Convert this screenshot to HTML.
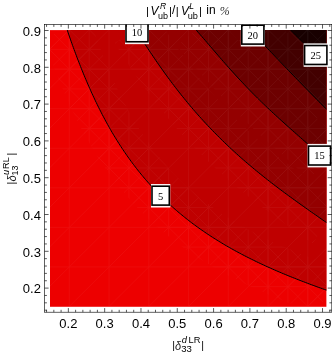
<!DOCTYPE html>
<html><head><meta charset="utf-8"><style>
html,body{margin:0;padding:0;background:#fff;}
body{width:332px;height:354px;overflow:hidden;font-family:"Liberation Sans",sans-serif;}
svg{display:block;font-family:"Liberation Sans",sans-serif;}
</style></head><body>
<svg width="332" height="354" viewBox="0 0 332 354">
<g style="will-change:opacity" opacity="0.999">
<rect x="50.0" y="30.1" width="276.40" height="276.70" fill="rgb(237,0,0)"/>
<path d="M67.28,30.10 L67.94,32.19 L68.60,34.12 L69.27,36.05 L69.94,37.98 L70.62,39.91 L71.30,41.83 L71.98,43.75 L72.67,45.66 L73.36,47.58 L74.06,49.49 L74.76,51.39 L75.46,53.29 L76.17,55.19 L76.89,57.08 L77.60,58.97 L78.33,60.86 L79.05,62.73 L79.79,64.61 L80.52,66.48 L81.26,68.34 L82.01,70.20 L82.76,72.05 L83.51,73.89 L84.27,75.73 L85.03,77.57 L85.80,79.40 L86.58,81.22 L87.36,83.03 L88.14,84.84 L88.93,86.64 L89.72,88.44 L90.52,90.23 L91.32,92.01 L92.13,93.78 L92.94,95.55 L93.76,97.31 L94.58,99.07 L95.41,100.81 L96.25,102.55 L97.09,104.28 L97.93,106.01 L98.78,107.72 L99.64,109.43 L100.50,111.14 L101.37,112.83 L102.24,114.52 L103.11,116.19 L104.00,117.87 L104.89,119.53 L105.78,121.18 L106.68,122.83 L107.59,124.47 L108.50,126.10 L109.42,127.73 L110.34,129.34 L111.27,130.95 L112.20,132.55 L113.15,134.14 L114.09,135.72 L115.05,137.30 L116.01,138.87 L116.97,140.43 L117.94,141.98 L118.92,143.52 L119.91,145.05 L120.90,146.58 L121.89,148.10 L122.90,149.61 L123.91,151.11 L124.92,152.61 L125.94,154.09 L126.97,155.57 L128.01,157.04 L129.05,158.50 L130.10,159.96 L131.15,161.40 L132.22,162.84 L133.28,164.27 L134.36,165.69 L135.44,167.11 L136.53,168.51 L137.63,169.91 L138.73,171.30 L139.84,172.68 L140.96,174.06 L142.08,175.42 L143.21,176.78 L144.35,178.13 L145.49,179.47 L146.65,180.81 L147.81,182.13 L148.97,183.45 L150.15,184.76 L151.33,186.07 L152.52,187.36 L153.71,188.65 L154.92,189.93 L156.13,191.21 L157.34,192.47 L158.57,193.73 L159.80,194.98 L161.04,196.22 L162.29,197.46 L163.55,198.68 L164.81,199.90 L166.08,201.12 L167.36,202.32 L168.64,203.52 L169.94,204.71 L171.24,205.90 L172.55,207.07 L173.87,208.24 L175.19,209.41 L176.52,210.56 L177.86,211.71 L179.21,212.85 L180.57,213.98 L181.93,215.11 L183.30,216.23 L184.68,217.35 L186.07,218.45 L187.47,219.55 L188.87,220.64 L190.28,221.73 L191.70,222.81 L193.13,223.88 L194.57,224.95 L196.01,226.01 L197.46,227.06 L198.92,228.11 L200.39,229.15 L201.86,230.18 L203.35,231.21 L204.84,232.23 L206.34,233.24 L207.84,234.25 L209.36,235.25 L210.88,236.25 L212.41,237.24 L213.95,238.22 L215.50,239.20 L217.06,240.17 L218.62,241.14 L220.19,242.10 L221.77,243.05 L223.35,244.00 L224.95,244.94 L226.55,245.88 L228.16,246.81 L229.78,247.73 L231.40,248.65 L233.04,249.56 L234.68,250.47 L236.32,251.37 L237.98,252.27 L239.64,253.16 L241.31,254.04 L242.99,254.92 L244.67,255.79 L246.37,256.66 L248.07,257.53 L249.77,258.39 L251.49,259.24 L253.21,260.09 L254.93,260.93 L256.67,261.77 L258.41,262.60 L260.15,263.43 L261.91,264.25 L263.67,265.06 L265.44,265.88 L267.21,266.68 L268.99,267.49 L270.77,268.28 L272.56,269.08 L274.36,269.86 L276.16,270.65 L277.97,271.43 L279.78,272.20 L281.60,272.97 L283.42,273.73 L285.25,274.49 L287.09,275.25 L288.92,276.00 L290.77,276.75 L292.61,277.49 L294.46,278.23 L296.32,278.96 L298.17,279.69 L300.04,280.41 L301.90,281.13 L303.77,281.85 L305.64,282.56 L307.51,283.27 L309.39,283.97 L311.27,284.67 L313.14,285.37 L315.03,286.06 L316.91,286.75 L318.79,287.43 L320.68,288.11 L322.56,288.79 L324.45,289.46 L326.40,290.13 L326.4,30.1 Z" fill="rgb(191,0,0)"/>
<path d="M136.11,30.10 L137.37,32.32 L138.64,34.32 L139.91,36.33 L141.19,38.33 L142.48,40.33 L143.77,42.33 L145.07,44.33 L146.38,46.33 L147.69,48.33 L149.00,50.32 L150.33,52.31 L151.66,54.30 L153.00,56.28 L154.34,58.26 L155.69,60.24 L157.05,62.21 L158.41,64.18 L159.78,66.14 L161.16,68.10 L162.55,70.05 L163.94,72.00 L165.34,73.94 L166.75,75.88 L168.16,77.81 L169.58,79.73 L171.01,81.65 L172.45,83.56 L173.89,85.47 L175.35,87.36 L176.81,89.26 L178.27,91.14 L179.75,93.02 L181.23,94.88 L182.73,96.75 L184.22,98.60 L185.73,100.45 L187.25,102.29 L188.77,104.12 L190.30,105.94 L191.84,107.76 L193.39,109.57 L194.95,111.37 L196.51,113.16 L198.09,114.95 L199.67,116.72 L201.26,118.49 L202.86,120.25 L204.46,122.00 L206.08,123.75 L207.70,125.48 L209.33,127.21 L210.97,128.93 L212.62,130.64 L214.28,132.35 L215.94,134.04 L217.62,135.73 L219.30,137.41 L220.99,139.08 L222.69,140.74 L224.39,142.40 L226.11,144.05 L227.83,145.69 L229.56,147.32 L231.30,148.94 L233.05,150.56 L234.80,152.16 L236.56,153.76 L238.33,155.36 L240.11,156.94 L241.89,158.52 L243.69,160.09 L245.49,161.65 L247.29,163.21 L249.11,164.75 L250.93,166.29 L252.76,167.82 L254.59,169.35 L256.43,170.87 L258.28,172.38 L260.13,173.88 L261.99,175.38 L263.85,176.87 L265.72,178.35 L267.60,179.83 L269.48,181.30 L271.36,182.76 L273.25,184.22 L275.15,185.67 L277.05,187.12 L278.95,188.55 L280.86,189.98 L282.76,191.41 L284.68,192.83 L286.59,194.24 L288.51,195.65 L290.43,197.05 L292.35,198.45 L294.27,199.84 L296.19,201.22 L298.11,202.60 L300.03,203.98 L301.95,205.35 L303.87,206.71 L305.79,208.07 L307.70,209.42 L309.62,210.77 L311.53,212.11 L313.43,213.45 L315.33,214.79 L317.23,216.12 L319.12,217.44 L321.00,218.76 L322.88,220.08 L324.75,221.39 L326.40,222.49 L326.4,30.1 Z" fill="rgb(148,0,0)"/>
<path d="M196.31,30.10 L198.10,32.30 L199.89,34.33 L201.69,36.38 L203.48,38.44 L205.27,40.51 L207.06,42.59 L208.85,44.68 L210.65,46.77 L212.45,48.86 L214.25,50.96 L216.06,53.06 L217.86,55.16 L219.68,57.27 L221.50,59.36 L223.32,61.46 L225.15,63.55 L226.99,65.64 L228.84,67.73 L230.69,69.81 L232.55,71.88 L234.41,73.95 L236.29,76.01 L238.17,78.06 L240.06,80.11 L241.97,82.14 L243.88,84.17 L245.80,86.19 L247.72,88.20 L249.66,90.20 L251.61,92.19 L253.57,94.18 L255.54,96.15 L257.51,98.12 L259.50,100.07 L261.49,102.02 L263.50,103.96 L265.51,105.89 L267.53,107.81 L269.56,109.73 L271.60,111.63 L273.65,113.53 L275.70,115.42 L277.76,117.31 L279.82,119.19 L281.89,121.06 L283.97,122.92 L286.04,124.79 L288.12,126.64 L290.21,128.49 L292.29,130.34 L294.38,132.19 L296.46,134.03 L298.54,135.87 L300.62,137.70 L302.69,139.54 L304.75,141.38 L306.81,143.21 L308.86,145.05 L310.90,146.89 L312.92,148.73 L314.93,150.58 L316.92,152.42 L318.89,154.27 L320.84,156.13 L322.77,157.99 L324.67,159.86 L326.40,161.58 L326.4,30.1 Z" fill="rgb(109,0,0)"/>
<path d="M250.41,30.10 L252.52,32.58 L254.62,34.82 L256.74,37.07 L258.85,39.31 L260.97,41.56 L263.09,43.80 L265.22,46.05 L267.35,48.29 L269.48,50.54 L271.62,52.78 L273.75,55.03 L275.89,57.27 L278.04,59.51 L280.18,61.75 L282.33,63.99 L284.47,66.23 L286.62,68.46 L288.77,70.69 L290.93,72.92 L293.08,75.15 L295.23,77.37 L297.39,79.59 L299.54,81.81 L301.69,84.03 L303.85,86.24 L306.00,88.45 L308.15,90.65 L310.30,92.85 L312.45,95.04 L314.60,97.23 L316.74,99.42 L318.88,101.60 L321.02,103.78 L323.16,105.95 L325.29,108.12 L326.40,109.20 L326.4,30.1 Z" fill="rgb(67,0,0)"/>
<path d="M290.69,30.10 L293.01,32.57 L295.34,34.92 L297.70,37.26 L300.07,39.58 L302.47,41.88 L304.88,44.17 L307.31,46.44 L309.76,48.70 L312.23,50.93 L314.71,53.16 L317.22,55.36 L319.75,57.55 L322.29,59.73 L324.86,61.89 L326.40,63.14 L326.4,30.1 Z" fill="rgb(24,0,0)"/>
<clipPath id="fc"><rect x="50.0" y="30.1" width="276.40" height="276.70"/></clipPath>
<mask id="m1" maskUnits="userSpaceOnUse" x="0" y="0" width="332" height="354"><rect x="0" y="0" width="332" height="354" fill="#000"/><path d="M67.3,30.1 L67.9,32.2 L68.6,34.1 L69.3,36.1 L69.9,38.0 L70.6,39.9 L71.3,41.8 L72.0,43.7 L72.7,45.7 L73.4,47.6 L74.1,49.5 L74.8,51.4 L75.5,53.3 L76.2,55.2 L76.9,57.1 L77.6,59.0 L78.3,60.9 L79.1,62.7 L79.8,64.6 L80.5,66.5 L81.3,68.3 L82.0,70.2 L82.8,72.0 L83.5,73.9 L84.3,75.7 L85.0,77.6 L85.8,79.4 L86.6,81.2 L87.4,83.0 L88.1,84.8 L88.9,86.6 L89.7,88.4 L90.5,90.2 L91.3,92.0 L92.1,93.8 L92.9,95.6 L93.8,97.3 L94.6,99.1 L95.4,100.8 L96.2,102.6 L97.1,104.3 L97.9,106.0 L98.8,107.7 L99.6,109.4 L100.5,111.1 L101.4,112.8 L102.2,114.5 L103.1,116.2 L104.0,117.9 L104.9,119.5 L105.8,121.2 L106.7,122.8 L107.6,124.5 L108.5,126.1 L109.4,127.7 L110.3,129.3 L111.3,130.9 L112.2,132.5 L113.1,134.1 L114.1,135.7 L115.0,137.3 L116.0,138.9 L117.0,140.4 L117.9,142.0 L118.9,143.5 L119.9,145.1 L120.9,146.6 L121.9,148.1 L122.9,149.6 L123.9,151.1 L124.9,152.6 L125.9,154.1 L127.0,155.6 L128.0,157.0 L129.0,158.5 L130.1,160.0 L131.2,161.4 L132.2,162.8 L133.3,164.3 L134.4,165.7 L135.4,167.1 L136.5,168.5 L137.6,169.9 L138.7,171.3 L139.8,172.7 L141.0,174.1 L142.1,175.4 L143.2,176.8 L144.3,178.1 L145.5,179.5 L146.6,180.8 L147.8,182.1 L149.0,183.5 L150.1,184.8 L151.3,186.1 L152.5,187.4 L153.7,188.7 L154.9,189.9 L156.1,191.2 L157.3,192.5 L158.6,193.7 L159.8,195.0 L161.0,196.2 L162.3,197.5 L163.5,198.7 L164.8,199.9 L166.1,201.1 L167.4,202.3 L168.6,203.5 L169.9,204.7 L171.2,205.9 L172.5,207.1 L173.9,208.2 L175.2,209.4 L176.5,210.6 L177.9,211.7 L179.2,212.8 L180.6,214.0 L181.9,215.1 L183.3,216.2 L184.7,217.3 L186.1,218.5 L187.5,219.6 L188.9,220.6 L190.3,221.7 L191.7,222.8 L193.1,223.9 L194.6,224.9 L196.0,226.0 L197.5,227.1 L198.9,228.1 L200.4,229.1 L201.9,230.2 L203.3,231.2 L204.8,232.2 L206.3,233.2 L207.8,234.3 L209.4,235.3 L210.9,236.3 L212.4,237.2 L214.0,238.2 L215.5,239.2 L217.1,240.2 L218.6,241.1 L220.2,242.1 L221.8,243.1 L223.4,244.0 L224.9,244.9 L226.6,245.9 L228.2,246.8 L229.8,247.7 L231.4,248.6 L233.0,249.6 L234.7,250.5 L236.3,251.4 L238.0,252.3 L239.6,253.2 L241.3,254.0 L243.0,254.9 L244.7,255.8 L246.4,256.7 L248.1,257.5 L249.8,258.4 L251.5,259.2 L253.2,260.1 L254.9,260.9 L256.7,261.8 L258.4,262.6 L260.2,263.4 L261.9,264.2 L263.7,265.1 L265.4,265.9 L267.2,266.7 L269.0,267.5 L270.8,268.3 L272.6,269.1 L274.4,269.9 L276.2,270.6 L278.0,271.4 L279.8,272.2 L281.6,273.0 L283.4,273.7 L285.3,274.5 L287.1,275.2 L288.9,276.0 L290.8,276.7 L292.6,277.5 L294.5,278.2 L296.3,279.0 L298.2,279.7 L300.0,280.4 L301.9,281.1 L303.8,281.8 L305.6,282.6 L307.5,283.3 L309.4,284.0 L311.3,284.7 L313.1,285.4 L315.0,286.1 L316.9,286.7 L318.8,287.4 L320.7,288.1 L322.6,288.8 L324.4,289.5 L326.4,290.1 M136.1,30.1 L137.4,32.3 L138.6,34.3 L139.9,36.3 L141.2,38.3 L142.5,40.3 L143.8,42.3 L145.1,44.3 L146.4,46.3 L147.7,48.3 L149.0,50.3 L150.3,52.3 L151.7,54.3 L153.0,56.3 L154.3,58.3 L155.7,60.2 L157.0,62.2 L158.4,64.2 L159.8,66.1 L161.2,68.1 L162.5,70.1 L163.9,72.0 L165.3,73.9 L166.7,75.9 L168.2,77.8 L169.6,79.7 L171.0,81.7 L172.4,83.6 L173.9,85.5 L175.3,87.4 L176.8,89.3 L178.3,91.1 L179.7,93.0 L181.2,94.9 L182.7,96.7 L184.2,98.6 L185.7,100.4 L187.2,102.3 L188.8,104.1 L190.3,105.9 L191.8,107.8 L193.4,109.6 L194.9,111.4 L196.5,113.2 L198.1,114.9 L199.7,116.7 L201.3,118.5 L202.9,120.3 L204.5,122.0 L206.1,123.7 L207.7,125.5 L209.3,127.2 L211.0,128.9 L212.6,130.6 L214.3,132.3 L215.9,134.0 L217.6,135.7 L219.3,137.4 L221.0,139.1 L222.7,140.7 L224.4,142.4 L226.1,144.0 L227.8,145.7 L229.6,147.3 L231.3,148.9 L233.0,150.6 L234.8,152.2 L236.6,153.8 L238.3,155.4 L240.1,156.9 L241.9,158.5 L243.7,160.1 L245.5,161.7 L247.3,163.2 L249.1,164.8 L250.9,166.3 L252.8,167.8 L254.6,169.4 L256.4,170.9 L258.3,172.4 L260.1,173.9 L262.0,175.4 L263.9,176.9 L265.7,178.4 L267.6,179.8 L269.5,181.3 L271.4,182.8 L273.3,184.2 L275.1,185.7 L277.0,187.1 L278.9,188.6 L280.9,190.0 L282.8,191.4 L284.7,192.8 L286.6,194.2 L288.5,195.7 L290.4,197.1 L292.3,198.4 L294.3,199.8 L296.2,201.2 L298.1,202.6 L300.0,204.0 L302.0,205.3 L303.9,206.7 L305.8,208.1 L307.7,209.4 L309.6,210.8 L311.5,212.1 L313.4,213.5 L315.3,214.8 L317.2,216.1 L319.1,217.4 L321.0,218.8 L322.9,220.1 L324.7,221.4 L326.4,222.5 M196.3,30.1 L198.1,32.3 L199.9,34.3 L201.7,36.4 L203.5,38.4 L205.3,40.5 L207.1,42.6 L208.9,44.7 L210.7,46.8 L212.4,48.9 L214.3,51.0 L216.1,53.1 L217.9,55.2 L219.7,57.3 L221.5,59.4 L223.3,61.5 L225.2,63.6 L227.0,65.6 L228.8,67.7 L230.7,69.8 L232.5,71.9 L234.4,73.9 L236.3,76.0 L238.2,78.1 L240.1,80.1 L242.0,82.1 L243.9,84.2 L245.8,86.2 L247.7,88.2 L249.7,90.2 L251.6,92.2 L253.6,94.2 L255.5,96.2 L257.5,98.1 L259.5,100.1 L261.5,102.0 L263.5,104.0 L265.5,105.9 L267.5,107.8 L269.6,109.7 L271.6,111.6 L273.6,113.5 L275.7,115.4 L277.8,117.3 L279.8,119.2 L281.9,121.1 L284.0,122.9 L286.0,124.8 L288.1,126.6 L290.2,128.5 L292.3,130.3 L294.4,132.2 L296.5,134.0 L298.5,135.9 L300.6,137.7 L302.7,139.5 L304.8,141.4 L306.8,143.2 L308.9,145.1 L310.9,146.9 L312.9,148.7 L314.9,150.6 L316.9,152.4 L318.9,154.3 L320.8,156.1 L322.8,158.0 L324.7,159.9 L326.4,161.6 M250.4,30.1 L252.5,32.6 L254.6,34.8 L256.7,37.1 L258.9,39.3 L261.0,41.6 L263.1,43.8 L265.2,46.0 L267.3,48.3 L269.5,50.5 L271.6,52.8 L273.8,55.0 L275.9,57.3 L278.0,59.5 L280.2,61.8 L282.3,64.0 L284.5,66.2 L286.6,68.5 L288.8,70.7 L290.9,72.9 L293.1,75.1 L295.2,77.4 L297.4,79.6 L299.5,81.8 L301.7,84.0 L303.8,86.2 L306.0,88.4 L308.1,90.6 L310.3,92.8 L312.4,95.0 L314.6,97.2 L316.7,99.4 L318.9,101.6 L321.0,103.8 L323.2,106.0 L325.3,108.1 L326.4,109.2 M290.7,30.1 L293.0,32.6 L295.3,34.9 L297.7,37.3 L300.1,39.6 L302.5,41.9 L304.9,44.2 L307.3,46.4 L309.8,48.7 L312.2,50.9 L314.7,53.2 L317.2,55.4 L319.7,57.6 L322.3,59.7 L324.9,61.9 L326.4,63.1" stroke="#fff" stroke-width="50" fill="none"/></mask>
<g clip-path="url(#fc)"><g opacity="0.055" stroke="#fff" stroke-width="0.75" fill="none">
<path d="M69.30,30.1 V306.8 M109.05,30.1 V306.8 M148.80,30.1 V306.8 M188.55,30.1 V306.8 M228.30,30.1 V306.8 M268.05,30.1 V306.8 M307.80,30.1 V306.8 M50.0,69.15 H326.4 M50.0,108.70 H326.4 M50.0,148.25 H326.4 M50.0,187.80 H326.4 M50.0,227.35 H326.4 M50.0,266.90 H326.4 M50.0,306.45 H326.4 M69.30,29.60 L-248.70,346.00 M109.05,29.60 L-208.95,346.00 M148.80,29.60 L-169.20,346.00 M188.55,29.60 L-129.45,346.00 M228.30,29.60 L-89.70,346.00 M268.05,29.60 L-49.95,346.00 M307.80,29.60 L-10.20,346.00 M347.55,29.60 L29.55,346.00 M387.30,29.60 L69.30,346.00 M427.05,29.60 L109.05,346.00 M466.80,29.60 L148.80,346.00 M506.55,29.60 L188.55,346.00 M546.30,29.60 L228.30,346.00 M586.05,29.60 L268.05,346.00 M625.80,29.60 L307.80,346.00"/>
<path mask="url(#m1)" d="M69.30,30.1 V306.8 M89.17,30.1 V306.8 M109.05,30.1 V306.8 M128.93,30.1 V306.8 M148.80,30.1 V306.8 M168.68,30.1 V306.8 M188.55,30.1 V306.8 M208.43,30.1 V306.8 M228.30,30.1 V306.8 M248.18,30.1 V306.8 M268.05,30.1 V306.8 M287.93,30.1 V306.8 M307.80,30.1 V306.8 M50.0,49.38 H326.4 M50.0,69.15 H326.4 M50.0,88.92 H326.4 M50.0,108.70 H326.4 M50.0,128.47 H326.4 M50.0,148.25 H326.4 M50.0,168.02 H326.4 M50.0,187.80 H326.4 M50.0,207.57 H326.4 M50.0,227.35 H326.4 M50.0,247.12 H326.4 M50.0,266.90 H326.4 M50.0,286.68 H326.4 M50.0,306.45 H326.4 M49.42,29.60 L-268.57,346.00 M-268.57,29.60 L49.42,346.00 M69.30,29.60 L-248.70,346.00 M-248.70,29.60 L69.30,346.00 M89.17,29.60 L-228.82,346.00 M-228.82,29.60 L89.17,346.00 M109.05,29.60 L-208.95,346.00 M-208.95,29.60 L109.05,346.00 M128.93,29.60 L-189.07,346.00 M-189.07,29.60 L128.93,346.00 M148.80,29.60 L-169.20,346.00 M-169.20,29.60 L148.80,346.00 M168.68,29.60 L-149.32,346.00 M-149.32,29.60 L168.68,346.00 M188.55,29.60 L-129.45,346.00 M-129.45,29.60 L188.55,346.00 M208.43,29.60 L-109.58,346.00 M-109.58,29.60 L208.43,346.00 M228.30,29.60 L-89.70,346.00 M-89.70,29.60 L228.30,346.00 M248.18,29.60 L-69.83,346.00 M-69.83,29.60 L248.18,346.00 M268.05,29.60 L-49.95,346.00 M-49.95,29.60 L268.05,346.00 M287.93,29.60 L-30.07,346.00 M-30.07,29.60 L287.93,346.00 M307.80,29.60 L-10.20,346.00 M-10.20,29.60 L307.80,346.00 M327.68,29.60 L9.68,346.00 M9.68,29.60 L327.68,346.00 M347.55,29.60 L29.55,346.00 M29.55,29.60 L347.55,346.00 M367.43,29.60 L49.42,346.00 M49.42,29.60 L367.43,346.00 M387.30,29.60 L69.30,346.00 M69.30,29.60 L387.30,346.00 M407.18,29.60 L89.17,346.00 M89.17,29.60 L407.18,346.00 M427.05,29.60 L109.05,346.00 M109.05,29.60 L427.05,346.00 M446.93,29.60 L128.93,346.00 M128.93,29.60 L446.93,346.00 M466.80,29.60 L148.80,346.00 M148.80,29.60 L466.80,346.00 M486.68,29.60 L168.68,346.00 M168.68,29.60 L486.68,346.00 M506.55,29.60 L188.55,346.00 M188.55,29.60 L506.55,346.00 M526.42,29.60 L208.43,346.00 M208.43,29.60 L526.42,346.00 M546.30,29.60 L228.30,346.00 M228.30,29.60 L546.30,346.00 M566.17,29.60 L248.18,346.00 M248.18,29.60 L566.17,346.00 M586.05,29.60 L268.05,346.00 M268.05,29.60 L586.05,346.00 M605.92,29.60 L287.93,346.00 M287.93,29.60 L605.92,346.00 M625.80,29.60 L307.80,346.00 M307.80,29.60 L625.80,346.00 M645.67,29.60 L327.68,346.00 M327.68,29.60 L645.67,346.00"/>
</g></g>
<path d="M67.28,30.10 L67.94,32.19 L68.60,34.12 L69.27,36.05 L69.94,37.98 L70.62,39.91 L71.30,41.83 L71.98,43.75 L72.67,45.66 L73.36,47.58 L74.06,49.49 L74.76,51.39 L75.46,53.29 L76.17,55.19 L76.89,57.08 L77.60,58.97 L78.33,60.86 L79.05,62.73 L79.79,64.61 L80.52,66.48 L81.26,68.34 L82.01,70.20 L82.76,72.05 L83.51,73.89 L84.27,75.73 L85.03,77.57 L85.80,79.40 L86.58,81.22 L87.36,83.03 L88.14,84.84 L88.93,86.64 L89.72,88.44 L90.52,90.23 L91.32,92.01 L92.13,93.78 L92.94,95.55 L93.76,97.31 L94.58,99.07 L95.41,100.81 L96.25,102.55 L97.09,104.28 L97.93,106.01 L98.78,107.72 L99.64,109.43 L100.50,111.14 L101.37,112.83 L102.24,114.52 L103.11,116.19 L104.00,117.87 L104.89,119.53 L105.78,121.18 L106.68,122.83 L107.59,124.47 L108.50,126.10 L109.42,127.73 L110.34,129.34 L111.27,130.95 L112.20,132.55 L113.15,134.14 L114.09,135.72 L115.05,137.30 L116.01,138.87 L116.97,140.43 L117.94,141.98 L118.92,143.52 L119.91,145.05 L120.90,146.58 L121.89,148.10 L122.90,149.61 L123.91,151.11 L124.92,152.61 L125.94,154.09 L126.97,155.57 L128.01,157.04 L129.05,158.50 L130.10,159.96 L131.15,161.40 L132.22,162.84 L133.28,164.27 L134.36,165.69 L135.44,167.11 L136.53,168.51 L137.63,169.91 L138.73,171.30 L139.84,172.68 L140.96,174.06 L142.08,175.42 L143.21,176.78 L144.35,178.13 L145.49,179.47 L146.65,180.81 L147.81,182.13 L148.97,183.45 L150.15,184.76 L151.33,186.07 L152.52,187.36 L153.71,188.65 L154.92,189.93 L156.13,191.21 L157.34,192.47 L158.57,193.73 L159.80,194.98 L161.04,196.22 L162.29,197.46 L163.55,198.68 L164.81,199.90 L166.08,201.12 L167.36,202.32 L168.64,203.52 L169.94,204.71 L171.24,205.90 L172.55,207.07 L173.87,208.24 L175.19,209.41 L176.52,210.56 L177.86,211.71 L179.21,212.85 L180.57,213.98 L181.93,215.11 L183.30,216.23 L184.68,217.35 L186.07,218.45 L187.47,219.55 L188.87,220.64 L190.28,221.73 L191.70,222.81 L193.13,223.88 L194.57,224.95 L196.01,226.01 L197.46,227.06 L198.92,228.11 L200.39,229.15 L201.86,230.18 L203.35,231.21 L204.84,232.23 L206.34,233.24 L207.84,234.25 L209.36,235.25 L210.88,236.25 L212.41,237.24 L213.95,238.22 L215.50,239.20 L217.06,240.17 L218.62,241.14 L220.19,242.10 L221.77,243.05 L223.35,244.00 L224.95,244.94 L226.55,245.88 L228.16,246.81 L229.78,247.73 L231.40,248.65 L233.04,249.56 L234.68,250.47 L236.32,251.37 L237.98,252.27 L239.64,253.16 L241.31,254.04 L242.99,254.92 L244.67,255.79 L246.37,256.66 L248.07,257.53 L249.77,258.39 L251.49,259.24 L253.21,260.09 L254.93,260.93 L256.67,261.77 L258.41,262.60 L260.15,263.43 L261.91,264.25 L263.67,265.06 L265.44,265.88 L267.21,266.68 L268.99,267.49 L270.77,268.28 L272.56,269.08 L274.36,269.86 L276.16,270.65 L277.97,271.43 L279.78,272.20 L281.60,272.97 L283.42,273.73 L285.25,274.49 L287.09,275.25 L288.92,276.00 L290.77,276.75 L292.61,277.49 L294.46,278.23 L296.32,278.96 L298.17,279.69 L300.04,280.41 L301.90,281.13 L303.77,281.85 L305.64,282.56 L307.51,283.27 L309.39,283.97 L311.27,284.67 L313.14,285.37 L315.03,286.06 L316.91,286.75 L318.79,287.43 L320.68,288.11 L322.56,288.79 L324.45,289.46 L326.40,290.13" fill="none" stroke="#000" stroke-width="1"/>
<path d="M136.11,30.10 L137.37,32.32 L138.64,34.32 L139.91,36.33 L141.19,38.33 L142.48,40.33 L143.77,42.33 L145.07,44.33 L146.38,46.33 L147.69,48.33 L149.00,50.32 L150.33,52.31 L151.66,54.30 L153.00,56.28 L154.34,58.26 L155.69,60.24 L157.05,62.21 L158.41,64.18 L159.78,66.14 L161.16,68.10 L162.55,70.05 L163.94,72.00 L165.34,73.94 L166.75,75.88 L168.16,77.81 L169.58,79.73 L171.01,81.65 L172.45,83.56 L173.89,85.47 L175.35,87.36 L176.81,89.26 L178.27,91.14 L179.75,93.02 L181.23,94.88 L182.73,96.75 L184.22,98.60 L185.73,100.45 L187.25,102.29 L188.77,104.12 L190.30,105.94 L191.84,107.76 L193.39,109.57 L194.95,111.37 L196.51,113.16 L198.09,114.95 L199.67,116.72 L201.26,118.49 L202.86,120.25 L204.46,122.00 L206.08,123.75 L207.70,125.48 L209.33,127.21 L210.97,128.93 L212.62,130.64 L214.28,132.35 L215.94,134.04 L217.62,135.73 L219.30,137.41 L220.99,139.08 L222.69,140.74 L224.39,142.40 L226.11,144.05 L227.83,145.69 L229.56,147.32 L231.30,148.94 L233.05,150.56 L234.80,152.16 L236.56,153.76 L238.33,155.36 L240.11,156.94 L241.89,158.52 L243.69,160.09 L245.49,161.65 L247.29,163.21 L249.11,164.75 L250.93,166.29 L252.76,167.82 L254.59,169.35 L256.43,170.87 L258.28,172.38 L260.13,173.88 L261.99,175.38 L263.85,176.87 L265.72,178.35 L267.60,179.83 L269.48,181.30 L271.36,182.76 L273.25,184.22 L275.15,185.67 L277.05,187.12 L278.95,188.55 L280.86,189.98 L282.76,191.41 L284.68,192.83 L286.59,194.24 L288.51,195.65 L290.43,197.05 L292.35,198.45 L294.27,199.84 L296.19,201.22 L298.11,202.60 L300.03,203.98 L301.95,205.35 L303.87,206.71 L305.79,208.07 L307.70,209.42 L309.62,210.77 L311.53,212.11 L313.43,213.45 L315.33,214.79 L317.23,216.12 L319.12,217.44 L321.00,218.76 L322.88,220.08 L324.75,221.39 L326.40,222.49" fill="none" stroke="#000" stroke-width="1"/>
<path d="M196.31,30.10 L198.10,32.30 L199.89,34.33 L201.69,36.38 L203.48,38.44 L205.27,40.51 L207.06,42.59 L208.85,44.68 L210.65,46.77 L212.45,48.86 L214.25,50.96 L216.06,53.06 L217.86,55.16 L219.68,57.27 L221.50,59.36 L223.32,61.46 L225.15,63.55 L226.99,65.64 L228.84,67.73 L230.69,69.81 L232.55,71.88 L234.41,73.95 L236.29,76.01 L238.17,78.06 L240.06,80.11 L241.97,82.14 L243.88,84.17 L245.80,86.19 L247.72,88.20 L249.66,90.20 L251.61,92.19 L253.57,94.18 L255.54,96.15 L257.51,98.12 L259.50,100.07 L261.49,102.02 L263.50,103.96 L265.51,105.89 L267.53,107.81 L269.56,109.73 L271.60,111.63 L273.65,113.53 L275.70,115.42 L277.76,117.31 L279.82,119.19 L281.89,121.06 L283.97,122.92 L286.04,124.79 L288.12,126.64 L290.21,128.49 L292.29,130.34 L294.38,132.19 L296.46,134.03 L298.54,135.87 L300.62,137.70 L302.69,139.54 L304.75,141.38 L306.81,143.21 L308.86,145.05 L310.90,146.89 L312.92,148.73 L314.93,150.58 L316.92,152.42 L318.89,154.27 L320.84,156.13 L322.77,157.99 L324.67,159.86 L326.40,161.58" fill="none" stroke="#000" stroke-width="1"/>
<path d="M250.41,30.10 L252.52,32.58 L254.62,34.82 L256.74,37.07 L258.85,39.31 L260.97,41.56 L263.09,43.80 L265.22,46.05 L267.35,48.29 L269.48,50.54 L271.62,52.78 L273.75,55.03 L275.89,57.27 L278.04,59.51 L280.18,61.75 L282.33,63.99 L284.47,66.23 L286.62,68.46 L288.77,70.69 L290.93,72.92 L293.08,75.15 L295.23,77.37 L297.39,79.59 L299.54,81.81 L301.69,84.03 L303.85,86.24 L306.00,88.45 L308.15,90.65 L310.30,92.85 L312.45,95.04 L314.60,97.23 L316.74,99.42 L318.88,101.60 L321.02,103.78 L323.16,105.95 L325.29,108.12 L326.40,109.20" fill="none" stroke="#000" stroke-width="1"/>
<path d="M290.69,30.10 L293.01,32.57 L295.34,34.92 L297.70,37.26 L300.07,39.58 L302.47,41.88 L304.88,44.17 L307.31,46.44 L309.76,48.70 L312.23,50.93 L314.71,53.16 L317.22,55.36 L319.75,57.55 L322.29,59.73 L324.86,61.89 L326.40,63.14" fill="none" stroke="#000" stroke-width="1"/>
<clipPath id="fr"><rect x="44.5" y="24.5" width="287.3" height="287.7"/></clipPath>
<g clip-path="url(#fr)">
<rect x="151.00" y="184.00" width="19.30" height="23.50" fill="#fff" opacity="0.94"/><rect x="152.00" y="186.20" width="17.30" height="18.90" fill="#fff" stroke="#000" stroke-width="1.6"/>
<rect x="125.00" y="20.65" width="24.00" height="23.50" fill="#fff" opacity="0.94"/><rect x="126.00" y="22.85" width="22.00" height="18.90" fill="#fff" stroke="#000" stroke-width="1.6"/>
<rect x="240.80" y="23.00" width="24.10" height="23.50" fill="#fff" opacity="0.94"/><rect x="241.80" y="25.20" width="22.10" height="18.90" fill="#fff" stroke="#000" stroke-width="1.6"/>
<rect x="303.60" y="43.35" width="24.30" height="23.50" fill="#fff" opacity="0.94"/><rect x="304.60" y="45.55" width="22.30" height="18.90" fill="#fff" stroke="#000" stroke-width="1.6"/>
<rect x="307.50" y="143.90" width="24.10" height="23.50" fill="#fff" opacity="0.94"/><rect x="308.50" y="146.10" width="22.10" height="18.90" fill="#fff" stroke="#000" stroke-width="1.6"/>
</g>
<text x="160.65" y="199.75" font-family="Liberation Serif, serif" font-size="10.5" text-anchor="middle" fill="#000">5</text>
<text x="137.00" y="35.90" font-family="Liberation Serif, serif" font-size="10.5" text-anchor="middle" fill="#000">10</text>
<text x="252.85" y="38.75" font-family="Liberation Serif, serif" font-size="10.5" text-anchor="middle" fill="#000">20</text>
<text x="315.75" y="59.10" font-family="Liberation Serif, serif" font-size="10.5" text-anchor="middle" fill="#000">25</text>
<text x="319.55" y="158.95" font-family="Liberation Serif, serif" font-size="10.5" text-anchor="middle" fill="#000">15</text>
<rect x="44.5" y="24.5" width="287.3" height="287.70" fill="none" stroke="#000" stroke-width="0.62"/>
<path d="M46.56,312.2 v-2.4 M46.56,24.5 v2.4 M44.5,310.18 h2.4 M331.8,310.18 h-2.4 M53.83,312.2 v-2.4 M53.83,24.5 v2.4 M44.5,302.82 h2.4 M331.8,302.82 h-2.4 M61.09,312.2 v-2.4 M61.09,24.5 v2.4 M44.5,295.46 h2.4 M331.8,295.46 h-2.4 M68.35,312.2 v-4.1 M68.35,24.5 v4.1 M44.5,288.10 h4.1 M331.8,288.10 h-4.1 M75.61,312.2 v-2.4 M75.61,24.5 v2.4 M44.5,280.74 h2.4 M331.8,280.74 h-2.4 M82.87,312.2 v-2.4 M82.87,24.5 v2.4 M44.5,273.38 h2.4 M331.8,273.38 h-2.4 M90.14,312.2 v-2.4 M90.14,24.5 v2.4 M44.5,266.02 h2.4 M331.8,266.02 h-2.4 M97.40,312.2 v-2.4 M97.40,24.5 v2.4 M44.5,258.66 h2.4 M331.8,258.66 h-2.4 M104.66,312.2 v-4.1 M104.66,24.5 v4.1 M44.5,251.30 h4.1 M331.8,251.30 h-4.1 M111.92,312.2 v-2.4 M111.92,24.5 v2.4 M44.5,243.94 h2.4 M331.8,243.94 h-2.4 M119.18,312.2 v-2.4 M119.18,24.5 v2.4 M44.5,236.58 h2.4 M331.8,236.58 h-2.4 M126.45,312.2 v-2.4 M126.45,24.5 v2.4 M44.5,229.22 h2.4 M331.8,229.22 h-2.4 M133.71,312.2 v-2.4 M133.71,24.5 v2.4 M44.5,221.86 h2.4 M331.8,221.86 h-2.4 M140.97,312.2 v-4.1 M140.97,24.5 v4.1 M44.5,214.50 h4.1 M331.8,214.50 h-4.1 M148.23,312.2 v-2.4 M148.23,24.5 v2.4 M44.5,207.14 h2.4 M331.8,207.14 h-2.4 M155.49,312.2 v-2.4 M155.49,24.5 v2.4 M44.5,199.78 h2.4 M331.8,199.78 h-2.4 M162.76,312.2 v-2.4 M162.76,24.5 v2.4 M44.5,192.42 h2.4 M331.8,192.42 h-2.4 M170.02,312.2 v-2.4 M170.02,24.5 v2.4 M44.5,185.06 h2.4 M331.8,185.06 h-2.4 M177.28,312.2 v-4.1 M177.28,24.5 v4.1 M44.5,177.70 h4.1 M331.8,177.70 h-4.1 M184.54,312.2 v-2.4 M184.54,24.5 v2.4 M44.5,170.34 h2.4 M331.8,170.34 h-2.4 M191.80,312.2 v-2.4 M191.80,24.5 v2.4 M44.5,162.98 h2.4 M331.8,162.98 h-2.4 M199.07,312.2 v-2.4 M199.07,24.5 v2.4 M44.5,155.62 h2.4 M331.8,155.62 h-2.4 M206.33,312.2 v-2.4 M206.33,24.5 v2.4 M44.5,148.26 h2.4 M331.8,148.26 h-2.4 M213.59,312.2 v-4.1 M213.59,24.5 v4.1 M44.5,140.90 h4.1 M331.8,140.90 h-4.1 M220.85,312.2 v-2.4 M220.85,24.5 v2.4 M44.5,133.54 h2.4 M331.8,133.54 h-2.4 M228.11,312.2 v-2.4 M228.11,24.5 v2.4 M44.5,126.18 h2.4 M331.8,126.18 h-2.4 M235.38,312.2 v-2.4 M235.38,24.5 v2.4 M44.5,118.82 h2.4 M331.8,118.82 h-2.4 M242.64,312.2 v-2.4 M242.64,24.5 v2.4 M44.5,111.46 h2.4 M331.8,111.46 h-2.4 M249.90,312.2 v-4.1 M249.90,24.5 v4.1 M44.5,104.10 h4.1 M331.8,104.10 h-4.1 M257.16,312.2 v-2.4 M257.16,24.5 v2.4 M44.5,96.74 h2.4 M331.8,96.74 h-2.4 M264.42,312.2 v-2.4 M264.42,24.5 v2.4 M44.5,89.38 h2.4 M331.8,89.38 h-2.4 M271.69,312.2 v-2.4 M271.69,24.5 v2.4 M44.5,82.02 h2.4 M331.8,82.02 h-2.4 M278.95,312.2 v-2.4 M278.95,24.5 v2.4 M44.5,74.66 h2.4 M331.8,74.66 h-2.4 M286.21,312.2 v-4.1 M286.21,24.5 v4.1 M44.5,67.30 h4.1 M331.8,67.30 h-4.1 M293.47,312.2 v-2.4 M293.47,24.5 v2.4 M44.5,59.94 h2.4 M331.8,59.94 h-2.4 M300.73,312.2 v-2.4 M300.73,24.5 v2.4 M44.5,52.58 h2.4 M331.8,52.58 h-2.4 M308.00,312.2 v-2.4 M308.00,24.5 v2.4 M44.5,45.22 h2.4 M331.8,45.22 h-2.4 M315.26,312.2 v-2.4 M315.26,24.5 v2.4 M44.5,37.86 h2.4 M331.8,37.86 h-2.4 M322.52,312.2 v-4.1 M322.52,24.5 v4.1 M44.5,30.50 h4.1 M331.8,30.50 h-4.1 M329.78,312.2 v-2.4 M329.78,24.5 v2.4" stroke="#000" stroke-width="0.65" fill="none"/>
<text x="68.35" y="328.1" font-size="13" text-anchor="middle">0.2</text>
<text x="40.9" y="293.30" font-size="13" text-anchor="end">0.2</text>
<text x="104.66" y="328.1" font-size="13" text-anchor="middle">0.3</text>
<text x="40.9" y="256.50" font-size="13" text-anchor="end">0.3</text>
<text x="140.97" y="328.1" font-size="13" text-anchor="middle">0.4</text>
<text x="40.9" y="219.70" font-size="13" text-anchor="end">0.4</text>
<text x="177.28" y="328.1" font-size="13" text-anchor="middle">0.5</text>
<text x="40.9" y="182.90" font-size="13" text-anchor="end">0.5</text>
<text x="213.59" y="328.1" font-size="13" text-anchor="middle">0.6</text>
<text x="40.9" y="146.10" font-size="13" text-anchor="end">0.6</text>
<text x="249.90" y="328.1" font-size="13" text-anchor="middle">0.7</text>
<text x="40.9" y="109.30" font-size="13" text-anchor="end">0.7</text>
<text x="286.21" y="328.1" font-size="13" text-anchor="middle">0.8</text>
<text x="40.9" y="72.50" font-size="13" text-anchor="end">0.8</text>
<text x="322.52" y="328.1" font-size="13" text-anchor="middle">0.9</text>
<text x="40.9" y="35.70" font-size="13" text-anchor="end">0.9</text>
<text x="147.55" y="14.700000000000001" font-size="11.5" font-family="Liberation Sans, sans-serif" fill="#000" text-anchor="middle">|</text>
<text x="150.4" y="14.6" font-size="12" font-family="Liberation Sans, sans-serif" font-style="italic" fill="#000" text-anchor="start">V</text>
<text x="160.0" y="8.8" font-size="8.5" font-family="Liberation Sans, sans-serif" font-style="italic" fill="#000" text-anchor="start">R</text>
<text x="158.0" y="19.1" font-size="9.0" font-family="Liberation Sans, sans-serif" fill="#000" text-anchor="start">ub</text>
<text x="170.55" y="14.700000000000001" font-size="11.5" font-family="Liberation Sans, sans-serif" fill="#000" text-anchor="middle">|</text>
<text x="172.1" y="14.4" font-size="12" font-family="Liberation Sans, sans-serif" fill="#000" text-anchor="start">/</text>
<text x="177.3" y="14.700000000000001" font-size="11.5" font-family="Liberation Sans, sans-serif" fill="#000" text-anchor="middle">|</text>
<text x="181.1" y="14.700000000000001" font-size="12" font-family="Liberation Sans, sans-serif" font-style="italic" fill="#000" text-anchor="start">V</text>
<text x="189.3" y="8.600000000000001" font-size="8.5" font-family="Liberation Sans, sans-serif" font-style="italic" fill="#000" text-anchor="start">L</text>
<text x="187.7" y="19.1" font-size="9.2" font-family="Liberation Sans, sans-serif" fill="#000" text-anchor="start">ub</text>
<text x="200.5" y="14.700000000000001" font-size="11.5" font-family="Liberation Sans, sans-serif" fill="#000" text-anchor="middle">|</text>
<text x="206.3" y="14.4" font-size="12" font-family="Liberation Sans, sans-serif" fill="#000" text-anchor="start">in</text>
<text x="219.8" y="14.8" font-size="12" font-family="Liberation Serif, sans-serif" font-style="italic" fill="#333" text-anchor="start">%</text>
<g transform="translate(173.7,349.9)"><text x="0" y="-0.9" font-size="10.6" font-family="Liberation Sans, sans-serif" fill="#000" text-anchor="middle">|</text><g transform="translate(1.4,0) scale(0.88,1)"><text x="0" y="0" font-size="12.5" font-family="Liberation Sans, sans-serif" font-style="italic" fill="#1a1a1a" text-anchor="start">δ</text></g><text x="8.0" y="-6.6" font-size="9.3" font-family="Liberation Sans, sans-serif" font-style="italic" fill="#000" text-anchor="start">d</text><text x="14.8" y="-6.6" font-size="9.3" font-family="Liberation Sans, sans-serif" fill="#000" text-anchor="start">LR</text><text x="7.5" y="2.3" font-size="9.6" font-family="Liberation Sans, sans-serif" fill="#000" text-anchor="start">33</text><text x="29.0" y="-0.9" font-size="10.6" font-family="Liberation Sans, sans-serif" fill="#000" text-anchor="middle">|</text></g>
<g transform="translate(15.5,183.0) rotate(-90)"><text x="0" y="-0.9" font-size="10.6" font-family="Liberation Sans, sans-serif" fill="#000" text-anchor="middle">|</text><g transform="translate(1.4,0) scale(0.88,1)"><text x="0" y="0" font-size="12.5" font-family="Liberation Sans, sans-serif" font-style="italic" fill="#1a1a1a" text-anchor="start">δ</text></g><text x="8.0" y="-6.6" font-size="9.3" font-family="Liberation Sans, sans-serif" font-style="italic" fill="#000" text-anchor="start">u</text><text x="14.0" y="-6.6" font-size="9.3" font-family="Liberation Sans, sans-serif" fill="#000" text-anchor="start">RL</text><text x="7.5" y="2.3" font-size="9.0" font-family="Liberation Sans, sans-serif" fill="#000" text-anchor="start">13</text><text x="29.0" y="-0.9" font-size="10.6" font-family="Liberation Sans, sans-serif" fill="#000" text-anchor="middle">|</text></g>
</g>
</svg>
</body></html>
